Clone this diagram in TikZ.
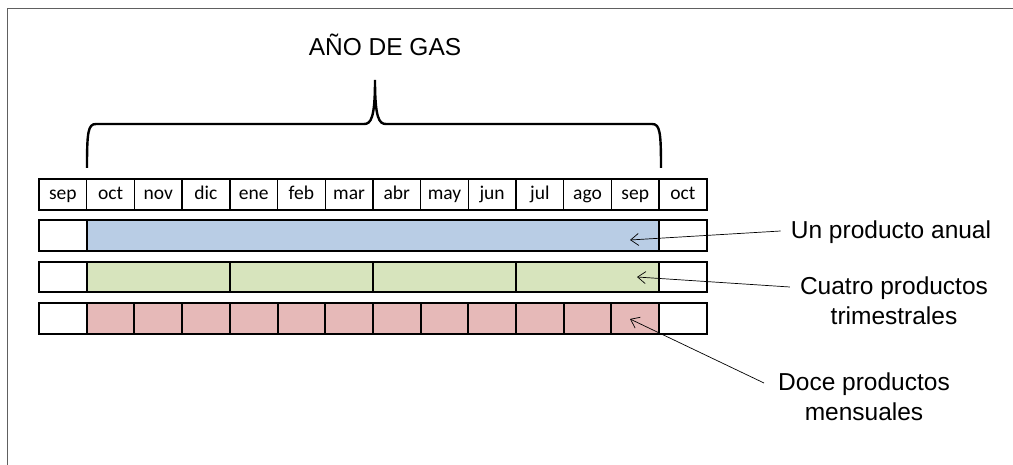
\documentclass[tikz,border=0pt]{standalone}
\usepackage{fontspec}
\setmainfont{Liberation Sans}
\newfontfamily\calfont{Carlito}
\usetikzlibrary{arrows.meta}
\definecolor{frameg}{HTML}{606060}
\definecolor{cblue}{HTML}{B9CDE5}
\definecolor{cgreen}{HTML}{D7E4BD}
\definecolor{cpink}{HTML}{E6B9B8}
\tikzset{
  monthcell/.style={draw=black, line width=1.4pt, inner sep=0pt, minimum width=47.7pt, minimum height=31pt, text height=14pt, text depth=4pt, font=\calfont\fontsize{19.5}{19.5}\selectfont, anchor=center},
  rowcell/.style={draw=black, line width=2pt, inner sep=0pt, minimum height=30.5pt, anchor=center},
  lbl/.style={font=\fontsize{24.5}{30}\selectfont, align=center, inner sep=0pt},
  pointer/.style={draw=black, line width=0.7pt, -{Straight Barb[length=8pt,width=12pt,line width=0.7pt]}},
  bracestyle/.style={draw=black, line width=2.4pt}
}
\begin{document}
\begin{tikzpicture}[x=1pt,y=-1pt]
\useasboundingbox (0,0) rectangle (1013,465);
% frame
\draw[frameg, line width=1pt] (7,470) -- (7,9) -- (1020,9);
% title
\node[lbl] (title) at (385,45) {AÑO DE GAS};
% brace
\draw[bracestyle] (87,168) .. controls (87,132) and (88,124) .. (96,124) -- (364,124) .. controls (371,124) and (375,118) .. (375,80)
  .. controls (375,118) and (379,124) .. (386,124) -- (652,124) .. controls (660,124) and (661,132) .. (661,168);
% months
\foreach \m [count=\i from 0] in {sep,oct,nov,dic,ene,feb,mar,abr,may,jun,jul,ago,sep,oct} {
  \node[monthcell] (m\i) at ({39+47.7*(\i+0.5)},194.5) {\m};
}
% annual row
\node[rowcell, minimum width=47.7pt] (a0) at ({39+47.7*0.5},235.5) {};
\node[rowcell, fill=cblue, minimum width={47.7*12}] (a1) at ({39+47.7*7},235.5) {};
\node[rowcell, minimum width=47.7pt] (a2) at ({39+47.7*13.5},235.5) {};
% quarterly row
\node[rowcell, minimum width=47.7pt] (q0) at ({39+47.7*0.5},277) {};
\foreach \q in {1,2,3,4} {
  \node[rowcell, fill=cgreen, minimum width={47.7*3}] (q\q) at ({39+47.7*(1+3*(\q-1)+1.5)},277) {};
}
\node[rowcell, minimum width=47.7pt] (q5) at ({39+47.7*13.5},277) {};
% monthly row
\node[rowcell, minimum width=47.7pt] (p0) at ({39+47.7*0.5},318.5) {};
\foreach \k in {1,...,12} {
  \node[rowcell, fill=cpink, minimum width=47.7pt] (p\k) at ({39+47.7*(\k+0.5)},318.5) {};
}
\node[rowcell, minimum width=47.7pt] (p13) at ({39+47.7*13.5},318.5) {};
% labels
\node[lbl] (l1) at (891,232) {Un producto anual};
\node[lbl] (l2) at (894,301) {Cuatro productos\\trimestrales};
\node[lbl] (l3) at (864,397) {Doce productos\\mensuales};
% pointers
\coordinate (t1) at (630,240);
\coordinate (t2) at (637,277);
\coordinate (t3) at (630,319);
\draw[pointer] (l1.west) ++(-10,-1) -- (t1);
\draw[pointer] (l2.west) ++(-10,-14) -- (t2);
\draw[pointer] (l3.west) ++(-14,-14) -- (t3);
\end{tikzpicture}
\end{document}
